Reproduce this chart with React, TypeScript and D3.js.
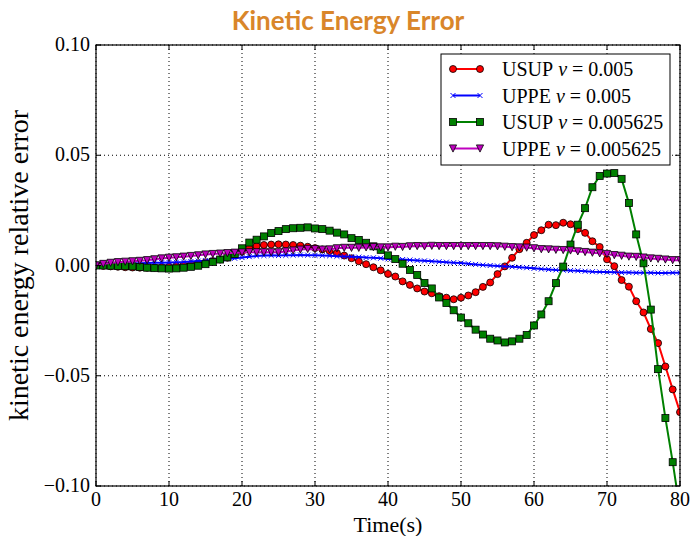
import React from "react";
import * as d3 from "d3";

const times: number[] = d3.range(0, 81);

const usup005: number[] = [
  0, -0.0002, -0.0004, -0.0006, -0.0008, -0.0009, -0.001, -0.001, -0.0009, -0.0007,
  -0.0005, -0.0002, 0.0002, 0.0006, 0.001, 0.0015, 0.002, 0.0027, 0.0035, 0.0047,
  0.0063, 0.0078, 0.0088, 0.0093, 0.0095, 0.0096, 0.0095, 0.0093, 0.009, 0.0085,
  0.0079, 0.0073, 0.0066, 0.0056, 0.0045, 0.0033, 0.0019, 0.0006, -0.0008, -0.0022,
  -0.0038, -0.005, -0.0072, -0.0088, -0.0104, -0.0118, -0.0126, -0.0139, -0.0146, -0.0153,
  -0.0146, -0.0136, -0.0121, -0.0097, -0.0077, -0.0039, -0.0004, 0.0035, 0.0074, 0.0103,
  0.0138, 0.016, 0.0185, 0.0183, 0.0194, 0.0187, 0.0165, 0.0148, 0.011, 0.0084,
  0.0028, -0.0003, -0.0066, -0.0096, -0.0162, -0.0213, -0.0288, -0.0352, -0.0458, -0.0562,
  -0.0665,
];

const uppe005: number[] = [
  0, 0.0002, 0.0004, 0.0006, 0.0007, 0.0009, 0.001, 0.0011, 0.0012, 0.0013,
  0.0014, 0.0015, 0.0016, 0.0018, 0.002, 0.0022, 0.0025, 0.0028, 0.003, 0.0033,
  0.0036, 0.004, 0.0043, 0.0045, 0.0046, 0.0045, 0.0046, 0.0047, 0.0048, 0.0047,
  0.0046, 0.0045, 0.0044, 0.0042, 0.0041, 0.004, 0.0038, 0.0036, 0.0035, 0.0033,
  0.003, 0.0029, 0.0027, 0.0025, 0.0023, 0.0021, 0.0019, 0.0017, 0.0015, 0.0013,
  0.0011, 0.0008, 0.0005, 0.0002, 0, -0.0002, -0.0004, -0.0006, -0.0008, -0.001,
  -0.0013, -0.0016, -0.0018, -0.002, -0.0021, -0.0023, -0.0024, -0.0026, -0.0028, -0.0029,
  -0.003, -0.0031, -0.0032, -0.0032, -0.0033, -0.0033, -0.0033, -0.0034, -0.0034, -0.0033,
  -0.0033,
];

const usup005625: number[] = [
  0, 0, -0.0001, -0.0002, -0.0003, -0.0004, -0.0007, -0.001, -0.0012, -0.0013,
  -0.0014, -0.0013, -0.001, -0.0006, -0.0001, 0.0006, 0.0016, 0.0027, 0.0037, 0.0052,
  0.0078, 0.0104, 0.0117, 0.0132, 0.0147, 0.0156, 0.0165, 0.0169, 0.0171, 0.0173,
  0.0168, 0.0165, 0.0158, 0.0149, 0.0141, 0.0124, 0.0116, 0.0103, 0.0087, 0.0071,
  0.0046, 0.0029, 0.0008, -0.002, -0.0043, -0.0079, -0.0104, -0.0145, -0.017, -0.0203,
  -0.0236, -0.0262, -0.0291, -0.0313, -0.0332, -0.034, -0.0349, -0.0344, -0.0332, -0.0315,
  -0.0272, -0.0222, -0.0162, -0.008, -0.0005, 0.0095, 0.0185, 0.026, 0.0355, 0.0406,
  0.0417, 0.0419, 0.0393, 0.0283, 0.0141, 0.001, -0.02, -0.047, -0.0692, -0.0892,
  -0.111,
];

const uppe005625: number[] = [
  0, 0.0007, 0.0012, 0.0015, 0.0017, 0.0019, 0.0021, 0.0024, 0.0028, 0.0032,
  0.0035, 0.0037, 0.004, 0.0043, 0.0046, 0.005, 0.0052, 0.0054, 0.0056, 0.0058,
  0.0059, 0.006, 0.006, 0.006, 0.006, 0.006, 0.0064, 0.0068, 0.0072, 0.0075,
  0.0074, 0.0072, 0.0073, 0.0078, 0.008, 0.008, 0.008, 0.0082, 0.0083, 0.0082,
  0.0082, 0.0085, 0.0084, 0.0087, 0.0088, 0.0087, 0.0089, 0.0088, 0.0088, 0.0088,
  0.0088, 0.0088, 0.0088, 0.0088, 0.0088, 0.0087, 0.0085, 0.0083, 0.0082, 0.0081,
  0.0078, 0.0074, 0.0073, 0.0071, 0.007, 0.0068, 0.0064, 0.0061, 0.0058, 0.0055,
  0.0052, 0.0047, 0.0044, 0.004, 0.0039, 0.0036, 0.0032, 0.003, 0.0027, 0.0024,
  0.0024,
];

const xTicks: number[] = [0, 10, 20, 30, 40, 50, 60, 70, 80];
const yTicks: number[] = [-0.1, -0.05, 0, 0.05, 0.1];
const yTickLabels: string[] = ["\u22120.10", "\u22120.05", "0.00", "0.05", "0.10"];

const seriesNames: string[] = ["USUP", "UPPE", "USUP", "UPPE"];
const seriesNu: string[] = ["0.005", "0.005", "0.005625", "0.005625"];
const seriesColors: string[] = ["#ff0000", "#0000ff", "#008000", "#bf00bf"];
const seriesMarkers: string[] = ["circle", "x", "square", "tri"];

const W = 691;
const H = 536;
const M = { left: 96, right: 680, top: 45, bottom: 486 };

function Marker({ kind, x, y, color }: { kind: string; x: number; y: number; color: string }) {
  if (kind === "circle") {
    return <circle cx={x} cy={y} r={3.5} fill={color} stroke="#000" strokeWidth={0.8} />;
  }
  if (kind === "square") {
    return <rect x={x - 3.5} y={y - 3.5} width={7} height={7} fill={color} stroke="#000" strokeWidth={0.8} />;
  }
  if (kind === "tri") {
    const s = 3.6;
    return (
      <path
        d={`M${x - s},${y - s}L${x + s},${y - s}L${x},${y + s}Z`}
        fill={color}
        stroke="#000"
        strokeWidth={0.8}
      />
    );
  }
  const s = 2.5;
  return (
    <path
      d={`M${x - s},${y - s}L${x + s},${y + s}M${x - s},${y + s}L${x + s},${y - s}`}
      stroke={color}
      strokeWidth={1}
      fill="none"
    />
  );
}

export default function App() {
  const x = d3.scaleLinear().domain([0, 80]).range([M.left, M.right]);
  const y = d3.scaleLinear().domain([-0.1, 0.1]).range([M.bottom, M.top]);
  const allSeries = [usup005, uppe005, usup005625, uppe005625];
  const line = d3
    .line<number>()
    .x((_, i) => x(times[i]))
    .y((d) => y(d))
    .curve(d3.curveLinear);

  const serif = "'Liberation Serif', 'DejaVu Serif', serif";
  const legendX = 441;
  const legendY = 54;
  const legendW = 229;
  const legendH = 111;

  return (
    <svg
      width={W}
      height={H}
      style={{ position: "absolute", left: 0, top: 0, background: "#fff" }}
      fontFamily={serif}
    >
      <rect x={0} y={0} width={W} height={H} fill="#fff" />
      <defs>
        <clipPath id="plotclip">
          <rect x={M.left} y={M.top} width={M.right - M.left} height={M.bottom - M.top} />
        </clipPath>
      </defs>

      {/* grid */}
      {xTicks.map((t) => (
        <line
          key={"gx" + t}
          x1={x(t)}
          x2={x(t)}
          y1={M.top}
          y2={M.bottom}
          stroke="#000"
          strokeWidth={1}
          strokeDasharray="1,3"
        />
      ))}
      {yTicks.map((t) => (
        <line
          key={"gy" + t}
          x1={M.left}
          x2={M.right}
          y1={y(t)}
          y2={y(t)}
          stroke="#000"
          strokeWidth={1}
          strokeDasharray="1,3"
        />
      ))}

      {/* series */}
      <g clipPath="url(#plotclip)">
        {allSeries.map((s, si) => (
          <g key={"s" + si}>
            <path d={line(s) || ""} fill="none" stroke={seriesColors[si]} strokeWidth={2} />
            {s.map((v, i) => (
              <Marker key={i} kind={seriesMarkers[si]} x={x(times[i])} y={y(v)} color={seriesColors[si]} />
            ))}
          </g>
        ))}
      </g>

      {/* frame */}
      <rect
        x={M.left}
        y={M.top}
        width={M.right - M.left}
        height={M.bottom - M.top}
        fill="none"
        stroke="#000"
        strokeWidth={1.2}
      />

      {/* ticks */}
      {xTicks.map((t) => (
        <g key={"tx" + t}>
          <line x1={x(t)} x2={x(t)} y1={M.bottom} y2={M.bottom - 5} stroke="#000" />
          <line x1={x(t)} x2={x(t)} y1={M.top} y2={M.top + 5} stroke="#000" />
          <text x={x(t)} y={M.bottom + 20} textAnchor="middle" fontSize={20}>
            {t}
          </text>
        </g>
      ))}
      {yTicks.map((t, i) => (
        <g key={"ty" + t}>
          <line x1={M.left} x2={M.left + 5} y1={y(t)} y2={y(t)} stroke="#000" />
          <line x1={M.right} x2={M.right - 5} y1={y(t)} y2={y(t)} stroke="#000" />
          <text x={M.left - 6} y={y(t) + 6} textAnchor="end" fontSize={20}>
            {yTickLabels[i]}
          </text>
        </g>
      ))}

      {/* axis labels */}
      <text x={(M.left + M.right) / 2} y={532} textAnchor="middle" fontSize={22}>
        Time(s)
      </text>
      <text
        transform={`translate(28, ${(M.top + M.bottom) / 2}) rotate(-90)`}
        textAnchor="middle"
        fontSize={28}
      >
        kinetic energy relative error
      </text>

      {/* title */}
      <text
        x={348}
        y={30}
        textAnchor="middle"
        fontSize={26}
        fontWeight="bold"
        fill="#d9862a"
        fontFamily="Lato, 'Open Sans', sans-serif"
      >
        Kinetic Energy Error
      </text>

      {/* legend */}
      <g>
        <rect x={legendX} y={legendY} width={legendW} height={legendH} fill="#fff" stroke="#000" strokeWidth={1} />
        {seriesNames.map((n, i) => {
          const ly = legendY + 15 + i * 26.5;
          return (
            <g key={"lg" + i}>
              <line x1={453} x2={480} y1={ly} y2={ly} stroke={seriesColors[i]} strokeWidth={2} />
              <Marker kind={seriesMarkers[i]} x={453} y={ly} color={seriesColors[i]} />
              <Marker kind={seriesMarkers[i]} x={480} y={ly} color={seriesColors[i]} />
              <text x={502} y={ly + 7} fontSize={20}>
                <tspan>{n}</tspan>
                <tspan fontStyle="italic">{" \u03BD"}</tspan>
                <tspan>{" = " + seriesNu[i]}</tspan>
              </text>
            </g>
          );
        })}
      </g>
    </svg>
  );
}
